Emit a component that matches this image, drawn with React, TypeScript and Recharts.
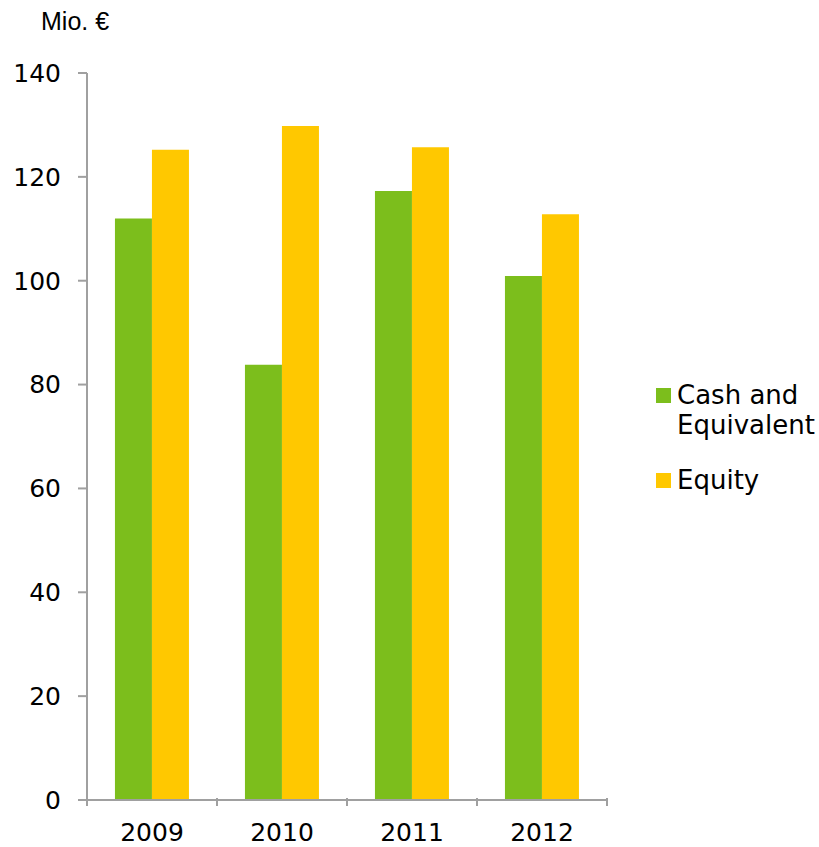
import React from 'react';
import { BarChart, Bar, XAxis, YAxis } from 'recharts';

const years = ['2009', '2010', '2011', '2012'];
const cashAndEquivalent = [112, 83.8, 117.3, 100.9];
const equity = [125.2, 129.8, 125.7, 112.8];
const yTicks = [0, 20, 40, 60, 80, 100, 120, 140];
const seriesLabels = [['Cash and', 'Equivalent'], ['Equity']];

const data = years.map((year, i) => ({
  year,
  cash: cashAndEquivalent[i],
  equity: equity[i],
}));

const GREEN = '#7CBE1C';
const YELLOW = '#FFC800';
const seriesColors = [GREEN, YELLOW];
const AXIS = '#A0A0A0';
const FONT = '"DejaVu Sans", Verdana, sans-serif';

const BAND = 130;

const XTick = (props: any) => {
  const { x, y, payload, index } = props;
  const left = x - BAND / 2;
  const right = x + BAND / 2;
  const axisY = y - 8;
  return (
    <g>
      <line x1={left} y1={axisY} x2={left} y2={axisY + 8} stroke={AXIS} strokeWidth={2} />
      {index === years.length - 1 && (
        <line x1={right} y1={axisY} x2={right} y2={axisY + 8} stroke={AXIS} strokeWidth={2} />
      )}
      <text x={x} y={axisY + 43} textAnchor="middle" fontFamily={FONT} fontSize={25} fill="#000">
        {payload.value}
      </text>
    </g>
  );
};

export default function App() {
  return (
    <div style={{ position: 'absolute', left: 0, top: 0, width: 819, height: 847, background: '#fff' }}>
      <div style={{ position: 'absolute', left: 41, top: 7, fontFamily: '"Liberation Sans", Arial, sans-serif', fontSize: 25, color: '#000' }}>
        Mio. €
      </div>
      <BarChart
        width={819}
        height={847}
        data={data}
        margin={{ top: 73, right: 212, bottom: 0, left: 0 }}
        barCategoryGap="21.5%"
        barGap={0}
      >
        <XAxis
          dataKey="year"
          axisLine={{ stroke: AXIS, strokeWidth: 2 }}
          tickLine={false}
          tick={<XTick />}
          tickMargin={0}
          height={47}
          interval={0}
        />
        <YAxis
          domain={[0, 140]}
          ticks={yTicks}
          width={87}
          axisLine={{ stroke: AXIS, strokeWidth: 2 }}
          tickLine={{ stroke: AXIS, strokeWidth: 2 }}
          tickSize={9}
          tickMargin={17}
          tick={{ fontFamily: FONT, fontSize: 25, fill: '#000' }}
        />
        <Bar dataKey="cash" name="Cash and Equivalent" fill={GREEN} isAnimationActive={false} />
        <Bar dataKey="equity" name="Equity" fill={YELLOW} isAnimationActive={false} />
      </BarChart>
      <div style={{ position: 'absolute', left: 656, top: 380, fontFamily: FONT, fontSize: 26, color: '#000' }}>
        {seriesLabels.map((lines, i) => (
          <div key={i} style={{ position: 'relative', marginBottom: i === 0 ? 25 : 0, paddingLeft: 21, lineHeight: '30px' }}>
            <span style={{ position: 'absolute', left: 0, top: 8, width: 15, height: 15, background: seriesColors[i] }} />
            {lines.map((l, j) => (
              <div key={j} style={{ whiteSpace: 'nowrap' }}>{l}</div>
            ))}
          </div>
        ))}
      </div>
    </div>
  );
}
